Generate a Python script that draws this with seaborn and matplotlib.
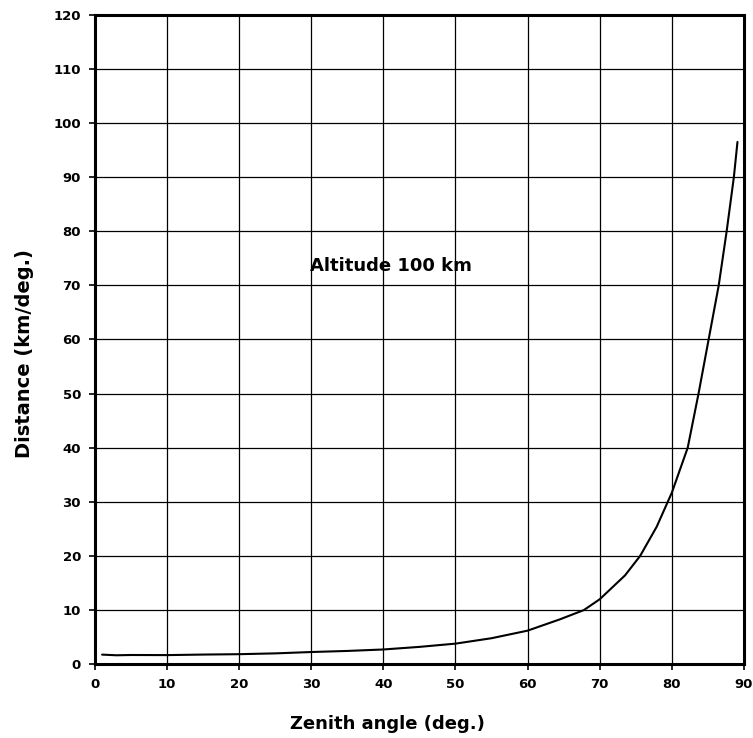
import matplotlib
matplotlib.use("Agg")
import matplotlib.pyplot as plt
import seaborn as sns
import pandas as pd

zenith_deg = [1, 3, 5, 10, 15, 20, 25, 30, 35, 40, 45, 50, 55, 60, 64.5, 67.8,
              70, 73.5, 75.6, 77.9, 80, 82.2, 83.7, 85.1, 86.5, 87.6, 88.6, 89.1]
distance_km_per_deg = [1.77, 1.65, 1.7, 1.68, 1.78, 1.85, 2.0, 2.25, 2.45, 2.72,
                       3.2, 3.8, 4.8, 6.2, 8.3, 10.0, 12.0, 16.4, 20.0, 25.4,
                       31.7, 40, 50, 60, 70, 80, 90, 96.5]
x_ticks = [0, 10, 20, 30, 40, 50, 60, 70, 80, 90]
y_ticks = [0, 10, 20, 30, 40, 50, 60, 70, 80, 90, 100, 110, 120]
annotation = "Altitude 100 km"
x_label = "Zenith angle (deg.)"
y_label = "Distance (km/deg.)"

sns.set_theme(style="ticks")
plt.rcParams['font.family'] = ['DejaVu Sans']
plt.rcParams['text.color'] = 'black'
plt.rcParams['axes.labelcolor'] = 'black'

df = pd.DataFrame({"zenith": zenith_deg, "distance": distance_km_per_deg})

fig = plt.figure(figsize=(7.53, 7.38), dpi=100)
ax = fig.add_axes([0.126, 0.100, 0.862, 0.880])

sns.lineplot(data=df, x="zenith", y="distance", ax=ax, color="black", linewidth=1.5)

ax.set_xlim(0, 90)
ax.set_ylim(0, 120)
ax.set_xticks(x_ticks)
ax.set_yticks(y_ticks)
ax.set_xticklabels([str(t) for t in x_ticks], fontweight="bold", fontsize=9.5)
ax.set_yticklabels([str(t) for t in y_ticks], fontweight="bold", fontsize=9.5)
ax.grid(True, color="black", linewidth=0.9)
ax.set_axisbelow(True)
for s in ax.spines.values():
    s.set_linewidth(2.2)
    s.set_color("black")
ax.tick_params(direction="out", length=4, width=1.2, colors="black", pad=6)

ax.set_xlabel(x_label, fontweight="bold", fontsize=13, va="center")
ax.xaxis.set_label_coords(0.451, -0.0925)
ax.set_ylabel(y_label, fontweight="bold", fontsize=14, va="center")
ax.yaxis.set_label_coords(-0.109, 0.478)

ax.text(41.0, 73.6, annotation, fontweight="bold", fontsize=13,
        ha="center", va="center")

fig.savefig("out.png", dpi=100, facecolor="white")
